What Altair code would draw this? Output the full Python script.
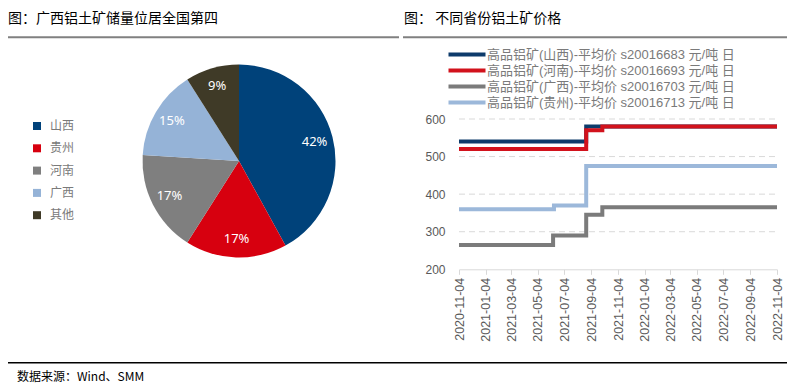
import altair as alt
import pandas as pd

# ---------------- data ----------------
pie_regions = ["山西", "贵州", "河南", "广西", "其他"]
pie_values = [42, 17, 17, 15, 9]
pie_labels = ["42%", "17%", "17%", "15%", "9%"]
pie_colors = ["#00427a", "#d7000f", "#7f7f7f", "#95b3d7", "#3f3a27"]

series_names = [
    "高品铝矿(山西)-平均价 s20016683 元/吨 日",
    "高品铝矿(河南)-平均价 s20016693 元/吨 日",
    "高品铝矿(广西)-平均价 s20016703 元/吨 日",
    "高品铝矿(贵州)-平均价 s20016713 元/吨 日",
]
series_colors = ["#0d3b6b", "#d2121c", "#7b7b7b", "#9cb8da"]

shanxi_dates = ["2020-11-04", "2021-08-23", "2022-11-04"]
shanxi_prices = [540, 580, 580]
henan_dates = ["2020-11-04", "2021-08-23", "2021-09-29", "2022-11-04"]
henan_prices = [520, 570, 580, 580]
guangxi_dates = ["2020-11-04", "2021-06-08", "2021-08-23", "2021-09-29", "2022-11-04"]
guangxi_prices = [265, 290, 345, 365, 365]
guizhou_dates = ["2020-11-04", "2021-06-10", "2021-08-23", "2022-11-04"]
guizhou_prices = [360, 370, 475, 475]

x_ticks = ["2020-11-04", "2021-01-04", "2021-03-04", "2021-05-04", "2021-07-04",
           "2021-09-04", "2021-11-04", "2022-01-04", "2022-03-04", "2022-05-04",
           "2022-07-04", "2022-09-04", "2022-11-04"]
y_ticks = [200, 300, 400, 500, 600]
grid_vals = [300, 400, 500, 600]

title_left = "图：广西铝土矿储量位居全国第四"
title_right = "图：  不同省份铝土矿价格"
source_text = "数据来源：Wind、SMM"

# ---------------- tables ----------------
def ms(s):
    return int(pd.Timestamp(s, tz="UTC").value // 10**6)

pie_df = pd.DataFrame({"region": pie_regions, "value": pie_values,
                       "label": pie_labels, "idx": list(range(len(pie_regions)))})

rows = []
for name, ds, ps in zip(series_names,
                        [shanxi_dates, henan_dates, guangxi_dates, guizhou_dates],
                        [shanxi_prices, henan_prices, guangxi_prices, guizhou_prices]):
    for d, p in zip(ds, ps):
        rows.append({"series": name, "date": d, "price": p})
line_df = pd.DataFrame(rows)

grid_df = pd.DataFrame({"price": grid_vals,
                        "date": [x_ticks[0]] * len(grid_vals),
                        "date2": [x_ticks[-1]] * len(grid_vals)})

CJK = "Noto Sans CJK SC"
LAT = "Liberation Sans"
MIX = "Liberation Sans, Noto Sans CJK SC"

x_scale = alt.Scale(type="utc", domain=[ms(x_ticks[0]), ms(x_ticks[-1])],
                    range=[451, 769], nice=False)
y_scale = alt.Scale(domain=[200, 600], range=[261.3, 111], nice=False, zero=False)

x_axis = alt.Axis(title=None, values=[ms(t) for t in x_ticks],
                  labelExpr="utcFormat(datum.value, '%Y-%m-%d')",
                  labelAngle=-90, labelFont=LAT, labelFontSize=12.5,
                  labelColor="#595959", tickColor="#d9d9d9", tickSize=5,
                  domainColor="#d9d9d9", grid=False, offset=-113.7, labelPadding=3,
                  labelOverlap=False)
y_axis = alt.Axis(title=None, values=y_ticks, labelFont=LAT, labelFontSize=12,
                  labelColor="#595959", ticks=False, domain=False, grid=False,
                  offset=-451, labelPadding=14)

# ---------------- layers ----------------
pie = alt.Chart(pie_df).mark_arc(radius=96.5).encode(
    theta=alt.Theta("value:Q", stack=True),
    color=alt.Color("region:N", scale=alt.Scale(domain=pie_regions, range=pie_colors),
                    legend=alt.Legend(title=None, orient="none", legendX=23, legendY=112,
                                      symbolType="square", symbolSize=64,
                                      symbolStrokeWidth=0, labelFont=CJK,
                                      labelFontSize=12, labelColor="#7a7a7a",
                                      rowPadding=10.3, labelOffset=7, padding=0)),
    order=alt.Order("idx:Q"),
    x=alt.value(231), y=alt.value(153),
)

pie_text = alt.Chart(pie_df).mark_text(radius=78, font="Noto Sans", fontSize=13,
                                       color="white").encode(
    theta=alt.Theta("value:Q", stack=True),
    order=alt.Order("idx:Q"),
    text="label:N",
    x=alt.value(231), y=alt.value(153),
)

grid = alt.Chart(grid_df).mark_rule(color="#d9d9d9", strokeDash=[6, 4], strokeWidth=1).encode(
    x=alt.X("date:T", scale=x_scale, axis=x_axis),
    x2="date2:T",
    y=alt.Y("price:Q", scale=y_scale, axis=y_axis),
)

lines = alt.Chart(line_df).mark_line(interpolate="step-after", strokeWidth=4).encode(
    x=alt.X("date:T", scale=x_scale, axis=x_axis),
    y=alt.Y("price:Q", scale=y_scale, axis=y_axis),
    color=alt.Color("series:N", scale=alt.Scale(domain=series_names, range=series_colors),
                    legend=alt.Legend(title=None, orient="none", legendX=452, legendY=39.5,
                                      symbolType="M-3.7,0H3.7", symbolSize=100,
                                      symbolStrokeWidth=4, symbolFillColor="transparent",
                                      labelFont=MIX,
                                      labelFontSize=13, labelColor="#7a7a7a",
                                      rowPadding=0, labelOffset=13, padding=0,
                                      labelLimit=500)),
    detail="series:N",
)

def text_layer(txt, x, y, size, color="#000000", font=CJK):
    return alt.Chart(pd.DataFrame({"t": [txt]})).mark_text(
        align="left", baseline="middle", font=font, fontSize=size, color=color
    ).encode(text="t:N", x=alt.value(x), y=alt.value(y))

def rule_layer(x1, x2, y, color, width):
    return alt.Chart(pd.DataFrame({"a": [0]})).mark_rule(color=color, strokeWidth=width).encode(
        x=alt.value(x1), x2=alt.value(x2), y=alt.value(y))

t1 = text_layer(title_left, 0, 11, 14)
t2 = text_layer(title_right, 396, 11, 14)
t3 = text_layer(source_text, 9, 369, 12)
r1 = rule_layer(0, 391, 29.3, "#808080", 2)
r2 = rule_layer(395, 779, 29.3, "#808080", 2)
r3 = rule_layer(0, 779, 354.7, "#000000", 1.5)

chart = alt.layer(grid, lines, pie, pie_text, t1, t2, t3, r1, r2, r3).resolve_scale(
    color="independent"
).properties(
    width=786, height=375, padding=0,
    autosize=alt.AutoSizeParams(type="none"),
).configure_view(stroke=None)

chart.save("out.html", embed_options={"renderer": "svg", "actions": False})
